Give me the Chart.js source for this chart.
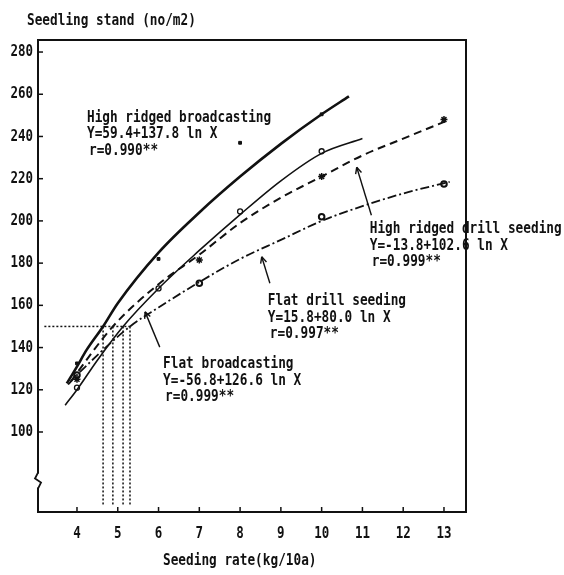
<!DOCTYPE html>
<html>
<head>
<meta charset="utf-8">
<script src="https://cdn.jsdelivr.net/npm/chart.js@4.4.0/dist/chart.umd.min.js"></script>
<style>
  html, body { margin: 0; padding: 0; background: #fff; }
  #wrap { width: 564px; height: 575px; }
</style>
</head>
<body>
<div id="wrap"><canvas id="myChart" width="564" height="575"></canvas></div>
<script>
const xTicks = [4, 5, 6, 7, 8, 9, 10, 11, 12, 13];
const yTicks = [100, 120, 140, 160, 180, 200, 220, 240, 260, 280];

// fitted curves
const hrbCurveX = [3.75, 4.0, 4.24, 4.64, 5.0, 6.0, 7.0, 8.0, 9.0, 10.0, 10.67];
const hrbCurveY = [123, 131, 139, 150, 161, 185, 204, 221, 236.5, 250.5, 259];
const fbCurveX = [3.71, 4.0, 4.5, 5.13, 6.0, 7.0, 8.0, 9.0, 10.0, 11.0];
const fbCurveY = [112.7, 120, 134, 150, 168, 186, 203, 219, 232, 239];
const hrdsCurveX = [3.85, 4.0, 4.88, 6.0, 7.0, 8.0, 9.0, 10.0, 11.0, 12.0, 13.14];
const hrdsCurveY = [124, 128, 150, 170, 184, 199, 211, 221, 231, 239, 248];
const fdsCurveX = [3.78, 4.0, 5.3, 6.0, 7.0, 8.0, 9.0, 10.0, 11.0, 12.0, 13.14];
const fdsCurveY = [122.5, 127, 150, 159, 171, 182, 191, 200, 207, 213, 218.5];

// observed points
const hrbPtsX = [4, 6, 8, 10];
const hrbPtsY = [132.5, 182, 237, 250.5];
const fbPtsX = [4, 6, 8, 10];
const fbPtsY = [121, 168, 204.5, 233];
const hrdsPtsX = [4, 7, 10, 13];
const hrdsPtsY = [125, 181.5, 221, 248];
const fdsPtsX = [4, 7, 10, 13];
const fdsPtsY = [127, 170.5, 202, 217.5];

// 150 plants/m2 guide
const guideLevel = 150;
const guideX = [4.64, 4.88, 5.13, 5.30];

const labels = [
    {x: 4.245, y: 247, lines: ['High ridged broadcasting', 'Y=59.4+137.8 ln X', 'r=0.990**']},
    {x: 11.18, y: 194.2, lines: ['High ridged drill seeding', 'Y=-13.8+102.6 ln X', 'r=0.999**']},
    {x: 8.68, y: 160, lines: ['Flat drill seeding', 'Y=15.8+80.0 ln X', 'r=0.997**']},
    {x: 6.11, y: 130.2, lines: ['Flat broadcasting', 'Y=-56.8+126.6 ln X', 'r=0.999**']},
];
const arrows = [
    {from: [6.03, 140.2], to: [5.67, 156.9]},
    {from: [8.73, 170.5], to: [8.53, 183]},
    {from: [11.22, 202.7], to: [10.86, 225.4]},
];

const pts = (xs, ys) => xs.map((v, i) => ({x: v, y: ys[i]}));
const FONT = 'bold 15px "DejaVu Sans Mono"';
const TICK_FONT = 'bold 16px "DejaVu Sans Mono"';
const INK = '#111';

function sText(ctx, str, x, y, align, sx) {
    ctx.save();
    ctx.translate(x, y);
    ctx.scale(sx || 0.85, 1);
    ctx.textAlign = align || 'left';
    ctx.fillText(str, 0, 0);
    ctx.restore();
}

function line(ctx, x1, y1, x2, y2) {
    ctx.beginPath();
    ctx.moveTo(x1, y1);
    ctx.lineTo(x2, y2);
    ctx.stroke();
}

const decor = {
    id: 'decor',
    afterDraw(chart) {
        const {ctx, chartArea: a, scales: {x, y}} = chart;
        ctx.save();
        ctx.strokeStyle = INK;
        ctx.fillStyle = INK;
        ctx.lineWidth = 2;
        ctx.strokeRect(a.left, a.top, a.right - a.left, a.bottom - a.top);

        ctx.font = TICK_FONT;
        ctx.textBaseline = 'middle';
        ctx.lineWidth = 1.5;
        for (const t of y.ticks) {
            const py = y.getPixelForValue(t.value);
            line(ctx, a.left, py, a.left + 5, py);
            sText(ctx, String(t.value), a.left - 5, py, 'right', 0.78);
        }
        ctx.textBaseline = 'alphabetic';
        for (const t of x.ticks) {
            const px = x.getPixelForValue(t.value);
            line(ctx, px, a.bottom, px, a.bottom - 5);
            sText(ctx, String(t.value), px, a.bottom + 26, 'center', 0.78);
        }

        // axis break
        const yb = y.getPixelForValue(77);
        ctx.fillStyle = '#fff';
        ctx.fillRect(a.left - 3, yb - 7, 6, 14);
        ctx.fillStyle = INK;
        ctx.lineWidth = 1.8;
        ctx.beginPath();
        ctx.moveTo(a.left, yb - 8);
        ctx.lineTo(a.left - 3, yb - 2);
        ctx.lineTo(a.left + 3, yb + 2);
        ctx.lineTo(a.left, yb + 8);
        ctx.stroke();

        // titles
        ctx.font = FONT;
        sText(ctx, 'Seedling stand (no/m2)', a.left - 11, a.top - 15);
        sText(ctx, 'Seeding rate(kg/10a)', a.left + 125, a.bottom + 53);

        // regression labels
        for (const lb of labels) {
            const px = x.getPixelForValue(lb.x);
            const py = y.getPixelForValue(lb.y);
            lb.lines.forEach((s, i) => sText(ctx, s, px + (i === 2 ? 2 : 0), py + i * 16.5));
        }

        // arrows
        ctx.lineWidth = 1.4;
        for (const ar of arrows) {
            const x1 = x.getPixelForValue(ar.from[0]), y1 = y.getPixelForValue(ar.from[1]);
            const x2 = x.getPixelForValue(ar.to[0]), y2 = y.getPixelForValue(ar.to[1]);
            line(ctx, x1, y1, x2, y2);
            const ang = Math.atan2(y2 - y1, x2 - x1);
            for (const d of [0.45, -0.45]) {
                line(ctx, x2, y2, x2 - 7 * Math.cos(ang + d), y2 - 7 * Math.sin(ang + d));
            }
        }
        ctx.restore();
    }
};

const curve = (data, width, dash) => ({
    data, borderColor: INK, borderWidth: width, borderDash: dash,
    pointRadius: 0, cubicInterpolationMode: 'monotone', fill: false,
});
const marks = (data, style, r, fillCol, bw) => ({
    data, showLine: false, pointStyle: style, pointRadius: r,
    pointBackgroundColor: fillCol, pointBorderColor: INK, pointBorderWidth: bw,
});

const datasets = [
    curve(pts(hrbCurveX, hrbCurveY), 2.6, []),
    curve(pts(fbCurveX, fbCurveY), 1.6, []),
    curve(pts(hrdsCurveX, hrdsCurveY), 2, [8, 5]),
    curve(pts(fdsCurveX, fdsCurveY), 1.8, [9, 3, 2, 3]),
    marks(pts(hrbPtsX, hrbPtsY), 'rect', 2, INK, 1),
    marks(pts(fbPtsX, fbPtsY), 'circle', 2.5, '#fff', 1.3),
    marks(pts(hrdsPtsX, hrdsPtsY), 'star', 3.5, INK, 1.5),
    marks(pts(fdsPtsX, fdsPtsY), 'circle', 2.8, '#fff', 2),
    {
        data: [{x: 3.2, y: guideLevel}, {x: guideX[guideX.length - 1], y: guideLevel}],
        borderColor: INK, borderWidth: 1.5, borderDash: [2, 2], pointRadius: 0,
    },
    ...guideX.map(v => ({
        data: [{x: v, y: guideLevel}, {x: v, y: 65}],
        borderColor: INK, borderWidth: 1.5, borderDash: [2, 2], pointRadius: 0,
    })),
];

const ctx = document.getElementById('myChart').getContext('2d');
const chart = new Chart(ctx, {
    type: 'line',
    data: {datasets},
    options: {
        responsive: false,
        animation: false,
        layout: {padding: {left: 0, right: 98, top: 40, bottom: 23}},
        plugins: {legend: {display: false}, tooltip: {enabled: false}},
        scales: {
            x: {
                type: 'linear', min: 3.044, max: 13.54,
                grid: {display: false, drawTicks: false},
                border: {display: false},
                ticks: {display: false},
                afterBuildTicks: s => { s.ticks = xTicks.map(v => ({value: v})); },
                afterFit: s => { s.height = 40; },
            },
            y: {
                type: 'linear', min: 62.1, max: 285.7,
                grid: {display: false, drawTicks: false},
                border: {display: false},
                ticks: {display: false},
                afterBuildTicks: s => { s.ticks = yTicks.map(v => ({value: v})); },
                afterFit: s => { s.width = 38; },
            },
        },
    },
    plugins: [decor],
});
</script>
</body>
</html>
